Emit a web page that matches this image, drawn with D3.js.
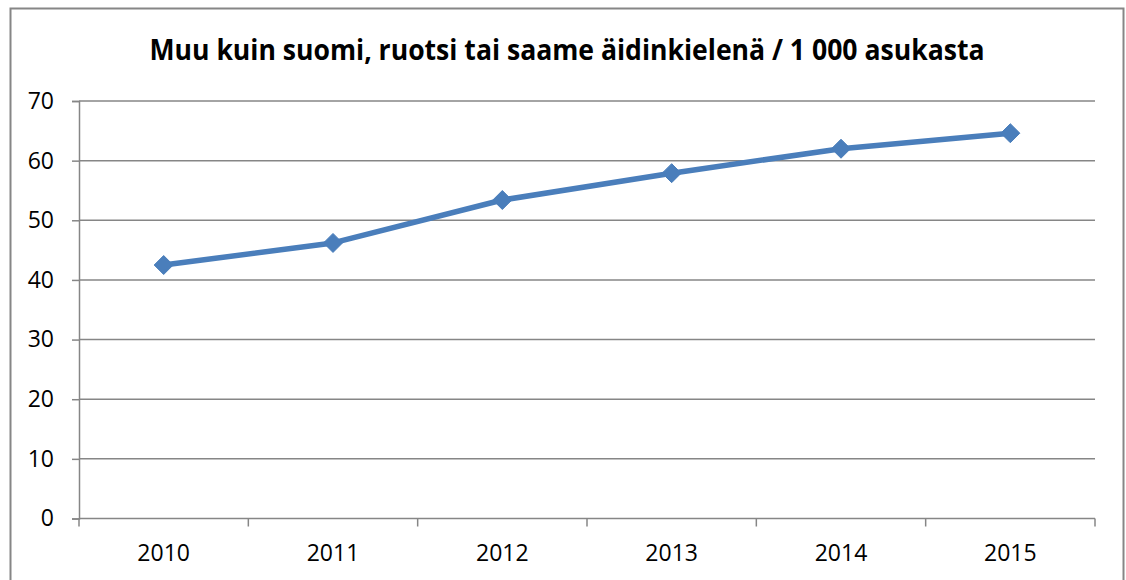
<!DOCTYPE html>
<html>
<head>
<meta charset="utf-8">
<script src="https://cdn.jsdelivr.net/npm/d3@7"></script>
<style>
  body { margin: 0; background: #fff; }
  svg { display: block; }
</style>
</head>
<body>
<svg width="1126" height="580"></svg>
<script>
// data
var years = ["2010", "2011", "2012", "2013", "2014", "2015"];
var values = [42.5, 46.2, 53.4, 57.9, 62.0, 64.6];
var yTicks = [0, 10, 20, 30, 40, 50, 60, 70];
var title = "Muu kuin suomi, ruotsi tai saame äidinkielenä / 1 000 asukasta";

var svg = d3.select("svg");
var font = "'Open Sans', sans-serif";

// outer chart border
svg.append("rect")
  .attr("x", 10.5).attr("y", 8.5)
  .attr("width", 1113).attr("height", 580)
  .attr("fill", "none").attr("stroke", "#868686").attr("stroke-width", 2);

var pLeft = 79, pRight = 1095, pTop = 101, pBottom = 518.5;

var x = d3.scaleBand().domain(years).range([pLeft, pRight]);
var y = d3.scaleLinear().domain([0, 70]).range([pBottom, pTop]);

// title
svg.append("text")
  .attr("x", 567).attr("y", 59.5)
  .attr("text-anchor", "middle")
  .attr("font-family", font)
  .attr("font-weight", "bold")
  .attr("font-size", "28px")
  .attr("textLength", 835)
  .attr("lengthAdjust", "spacingAndGlyphs")
  .text(title);

// gridlines
svg.append("g").selectAll("line")
  .data(yTicks.filter(d => d > 0))
  .enter().append("line")
  .attr("x1", pLeft).attr("x2", pRight)
  .attr("y1", d => y(d)).attr("y2", d => y(d))
  .attr("stroke", "#868686").attr("stroke-width", 1.5);

// y axis
var yAxis = svg.append("g")
  .attr("transform", "translate(" + pLeft + ",0)")
  .call(d3.axisLeft(y).tickValues(yTicks).tickSize(7).tickPadding(18));
yAxis.select(".domain").attr("stroke", "#868686").attr("stroke-width", 1.5);
yAxis.selectAll(".tick line").attr("stroke", "#868686").attr("stroke-width", 1.5);
yAxis.selectAll("text")
  .attr("font-family", font).attr("font-size", "23px").attr("fill", "#000");

// x axis - ticks on category boundaries
var xAxis = svg.append("g")
  .attr("transform", "translate(0," + pBottom + ")");
xAxis.append("line")
  .attr("x1", pLeft).attr("x2", pRight)
  .attr("stroke", "#868686").attr("stroke-width", 1.5);
var bounds = years.map(d => x(d)).concat([pRight]);
xAxis.selectAll(".tk").data(bounds).enter().append("line")
  .attr("x1", d => d).attr("x2", d => d)
  .attr("y1", 0).attr("y2", 8)
  .attr("stroke", "#868686").attr("stroke-width", 1.5);
xAxis.selectAll("text").data(years).enter().append("text")
  .attr("x", d => x(d) + x.bandwidth() / 2)
  .attr("y", 42)
  .attr("text-anchor", "middle")
  .attr("font-family", font).attr("font-size", "23px").attr("fill", "#000")
  .text(d => d);

// line
var pts = years.map((d, i) => [x(d) + x.bandwidth() / 2, y(values[i])]);
svg.append("path")
  .datum(pts)
  .attr("d", d3.line())
  .attr("fill", "none")
  .attr("stroke", "#4a7ebb")
  .attr("stroke-width", 5.5)
  .attr("stroke-linejoin", "round");

// diamond markers
svg.selectAll(".mk").data(pts).enter().append("path")
  .attr("transform", d => "translate(" + d[0] + "," + d[1] + ")")
  .attr("d", "M0,-9.5L9.5,0L0,9.5L-9.5,0Z")
  .attr("fill", "#4a7ebb")
  .attr("stroke", "#4a7ebb")
  .attr("stroke-width", 1)
  .attr("stroke-linejoin", "round");
</script>
</body>
</html>
